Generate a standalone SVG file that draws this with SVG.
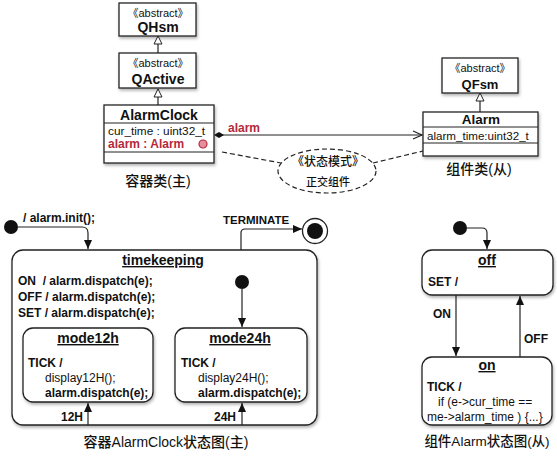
<svg xmlns="http://www.w3.org/2000/svg" width="557" height="458" viewBox="0 0 557 458">
<style>
text{font-family:"Liberation Sans","Noto Sans CJK SC",sans-serif;fill:#111}
.cls{fill:#fff;stroke:#222;stroke-width:1.3}
.ln{stroke:#222;stroke-width:1.2;fill:none}
.st{fill:#fff;stroke:#222;stroke-width:1.3}
.b{font-weight:bold}
.abs{font-size:11px;text-anchor:middle}
.cn{font-size:14px;font-weight:bold;text-anchor:middle}
.at{font-size:11.8px}
.red{fill:#b5283b}
.sl{font-size:12px;font-weight:bold}
.rg{font-size:12px}
.cap{font-size:14px;text-anchor:middle;font-weight:500}
.sn{font-size:14px;font-weight:bold;text-anchor:middle;text-decoration:underline}
.dash{stroke:#222;stroke-width:1.2;fill:none;stroke-dasharray:5 3}
</style>
<defs>
<marker id="gen" markerWidth="10" markerHeight="10" refX="9" refY="5" orient="auto" markerUnits="userSpaceOnUse">
<path d="M1,1 L9,5 L1,9 Z" fill="#fff" stroke="#222" stroke-width="1"/>
</marker>
<marker id="open" markerWidth="12" markerHeight="12" refX="10" refY="6" orient="auto" markerUnits="userSpaceOnUse">
<path d="M1,2 L10,6 L1,10" fill="none" stroke="#222" stroke-width="1.2"/>
</marker>
<marker id="fill" markerWidth="10" markerHeight="10" refX="9" refY="5" orient="auto" markerUnits="userSpaceOnUse">
<path d="M0,1 L9,5 L0,9 Z" fill="#111"/>
</marker>
<filter id="sh" x="-10%" y="-10%" width="125%" height="130%">
<feDropShadow dx="1" dy="2" stdDeviation="1.5" flood-color="#000" flood-opacity="0.3"/>
</filter>
</defs>

<g id="QHsm">
<rect class="cls" x="119" y="3" width="77" height="33" filter="url(#sh)"/>
<text class="abs" x="158" y="17">《abstract》</text>
<text class="cn" x="158" y="32">QHsm</text>
</g>
<g id="QActive">
<rect class="cls" x="119" y="53" width="77" height="35" filter="url(#sh)"/>
<text class="abs" x="158" y="67">《abstract》</text>
<text class="cn" x="158" y="84">QActive</text>
</g>
<g id="AlarmClock">
<rect class="cls" x="104" y="105" width="110" height="58" filter="url(#sh)"/>
<line class="ln" x1="104" y1="123" x2="214" y2="123"/>
<line class="ln" x1="104" y1="152" x2="214" y2="152"/>
<text class="cn" x="159" y="120">AlarmClock</text>
<text class="at" x="108" y="135">cur_time : uint32_t</text>
<text class="sl red" x="108" y="148">alarm : Alarm</text>
<circle cx="203" cy="144" r="4" fill="#e58ea0" stroke="#b5283b" stroke-width="1.2"/>
<text class="cap" x="158" y="186">容器类(主)</text>
</g>
<g id="QFsm">
<rect class="cls" x="442" y="58" width="76" height="35" filter="url(#sh)"/>
<text class="abs" x="480" y="72">《abstract》</text>
<text class="cn" x="480" y="89" style="font-size:13px">QFsm</text>
</g>
<g id="Alarm">
<rect class="cls" x="423" y="112" width="115" height="44" filter="url(#sh)"/>
<line class="ln" x1="423" y1="127" x2="538" y2="127"/>
<line class="ln" x1="423" y1="143" x2="538" y2="143"/>
<text class="cn" x="481" y="124" style="font-size:13.5px">Alarm</text>
<text x="427" y="140" style="font-size:11.6px">alarm_time:uint32_t</text>
<text class="cap" x="479" y="174">组件类(从)</text>
</g>
<g id="note">
<ellipse class="dash" cx="327" cy="171" rx="49" ry="22"/>
<text x="328" y="166" style="font-size:12px;text-anchor:middle;font-weight:500">《状态模式》</text>
<text x="328" y="186" style="font-size:11px;text-anchor:middle;font-weight:500">正交组件</text>
</g>

<g id="init1"><circle cx="11" cy="227" r="7" fill="#111"/></g>
<g id="final"><circle cx="315" cy="231" r="12.5" fill="#fff" stroke="#222" stroke-width="1.3"/><circle cx="315" cy="231" r="8" fill="#111"/></g>
<g id="timekeeping">
<rect class="st" x="12" y="250" width="305" height="175" rx="11" filter="url(#sh)"/>
<text class="sn" x="163" y="265">timekeeping</text>
<text class="sl" x="18" y="285" style="white-space:pre">ON  / alarm.dispatch(e);</text>
<text class="sl" x="18" y="301">OFF / alarm.dispatch(e);</text>
<text class="sl" x="18" y="317">SET / alarm.dispatch(e);</text>
</g>
<g id="init2"><circle cx="242" cy="282" r="7" fill="#111"/></g>
<g id="mode12h">
<rect class="st" x="23" y="328" width="130" height="74" rx="10" filter="url(#sh)"/>
<text class="sn" x="88" y="343">mode12h</text>
<text class="sl" x="28" y="367">TICK /</text>
<text class="rg" x="45" y="382">display12H();</text>
<text class="sl" x="45" y="397">alarm.dispatch(e);</text>
</g>
<g id="mode24h">
<rect class="st" x="175" y="328" width="132" height="74" rx="10" filter="url(#sh)"/>
<text class="sn" x="240" y="343">mode24h</text>
<text class="sl" x="181" y="367">TICK /</text>
<text class="rg" x="198" y="382">display24H();</text>
<text class="sl" x="198" y="397">alarm.dispatch(e);</text>
</g>
<text class="cap" x="166" y="447">容器AlarmClock状态图(主)</text>

<g id="init3"><circle cx="460" cy="228" r="7" fill="#111"/></g>
<g id="off">
<rect class="st" x="422" y="250" width="131" height="45" rx="10" filter="url(#sh)"/>
<text class="sn" x="487" y="265">off</text>
<text class="sl" x="428" y="286">SET /</text>
</g>
<g id="on">
<rect class="st" x="422" y="357" width="130" height="68" rx="10" filter="url(#sh)"/>
<text class="sn" x="487" y="370">on</text>
<text class="sl" x="427" y="391">TICK /</text>
<text class="rg" x="438" y="406">if (e-&gt;cur_time ==</text>
<text class="rg" x="427" y="421">me-&gt;alarm_time ) {...}</text>
</g>
<text class="cap" x="487" y="446" style="font-size:13.5px">组件Alarm状态图(从)</text>

<g id="connectors">
<line class="ln" x1="158" y1="53" x2="158" y2="36" marker-end="url(#gen)"/>
<line class="ln" x1="158" y1="105" x2="158" y2="89" marker-end="url(#gen)"/>
<line class="ln" x1="480" y1="112" x2="480" y2="93" marker-end="url(#gen)"/>
<line class="ln" x1="222" y1="135" x2="422" y2="135" marker-end="url(#open)"/>
<polygon points="214,135 219,132 224,135 219,138" fill="#111"/>
<text class="sl red" x="228" y="132">alarm</text>
<line class="dash" x1="222" y1="152" x2="281" y2="163"/>
<line class="dash" x1="373" y1="163" x2="423" y2="151"/>
<path class="ln" d="M17,227 H82 Q88,227 88,233 V249" marker-end="url(#fill)"/>
<text class="sl" x="23" y="222">/ alarm.init();</text>
<path class="ln" d="M241,250 V233 Q241,229 245,229 H302" marker-end="url(#fill)"/>
<text class="b" x="223" y="224" style="font-size:11.5px">TERMINATE</text>
<line class="ln" x1="242" y1="289" x2="242" y2="327" marker-end="url(#fill)"/>
<line class="ln" x1="88" y1="425" x2="88" y2="403" marker-end="url(#fill)"/>
<text class="sl" x="61" y="421">12H</text>
<line class="ln" x1="242" y1="425" x2="242" y2="403" marker-end="url(#fill)"/>
<text class="sl" x="214" y="421">24H</text>
<path class="ln" d="M466,228 H482 Q487,228 487,233 V249" marker-end="url(#fill)"/>
<line class="ln" x1="456" y1="295" x2="456" y2="356" marker-end="url(#fill)"/>
<text class="sl" x="433" y="318">ON</text>
<line class="ln" x1="520" y1="357" x2="520" y2="296" marker-end="url(#fill)"/>
<text class="sl" x="524" y="343">OFF</text>
</g>
</svg>
